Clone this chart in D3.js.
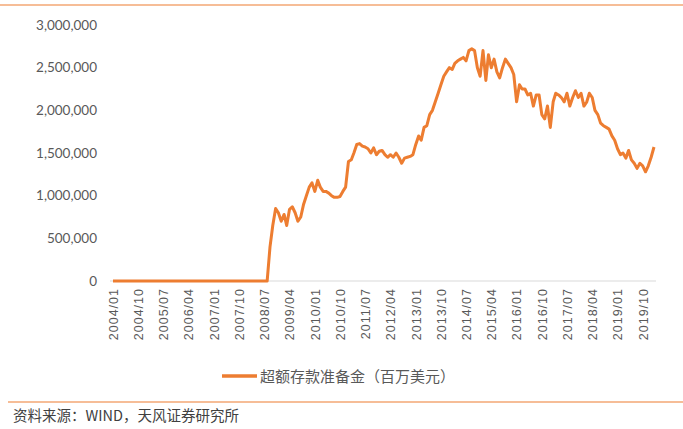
<!DOCTYPE html>
<html><head><meta charset="utf-8">
<script src="https://cdn.jsdelivr.net/npm/d3@7"></script>
<style>body{margin:0;background:#fff}svg{font-family:"Noto Sans CJK SC","Noto Sans",sans-serif}</style>
</head><body><svg id="c" width="683" height="429"></svg>
<script>
const startMonth = "2004/01";
const zeroUntil = "2008/07";
const valuesFrom0808 = [0,400,650,850,800,700,780,650,840,870,800,700,750,900,1000,1100,1150,
1050,1180,1100,1050,1050,1030,1000,980,980,990,1050,1100,
1400,1420,1500,1600,1610,1580,1570,1550,1500,1560,1480,1520,
1530,1480,1450,1480,1450,1500,1450,1380,1440,1450,1460,1480,
1600,1700,1650,1800,1820,1950,2000,2100,2200,2300,2400,2450,
2500,2480,2550,2580,2600,2620,2580,2700,2720,2700,2500,2400,
2700,2350,2650,2500,2600,2450,2380,2500,2600,2550,2500,2420,
2100,2300,2250,2250,2180,2200,2050,2180,2180,1950,1900,2050,
1800,2100,2200,2180,2150,2100,2200,2050,2150,2230,2150,2200,
2050,2100,2200,2150,2000,1950,1850,1820,1800,1780,1700,1650,
1550,1480,1500,1440,1530,1420,1380,1320,1380,1350,1280,1350,
1450,1570];
const tickLabels = ["2004/01","2004/10","2005/07","2006/04","2007/01","2007/10","2008/07","2009/04","2010/01","2010/10","2011/07","2012/04","2013/01","2013/10","2014/07","2015/04","2016/01","2016/10","2017/07","2018/04","2019/01","2019/10"];
const yTicks = [0,500000,1000000,1500000,2000000,2500000,3000000];
const seriesName = "超额存款准备金（百万美元）";
const source = "资料来源：WIND，天风证券研究所";

const parse = d3.timeParse("%Y/%m");
const data = [];
let d = parse(startMonth);
while (d <= parse(zeroUntil)) { data.push({date:d, v:0}); d = d3.timeMonth.offset(d,1); }
valuesFrom0808.forEach(v => { data.push({date:d, v:v*1000}); d = d3.timeMonth.offset(d,1); });

const svg = d3.select("#c");
const x = d3.scaleTime().domain([parse("2004/01"), parse("2020/02")]).range([113, 654]);
const y = d3.scaleLinear().domain([0,3000000]).range([281, 25]);

svg.append("line").attr("x1",0).attr("x2",683).attr("y1",5).attr("y2",5).attr("stroke","#ED7D31").attr("stroke-width",1.2);
svg.append("line").attr("x1",8).attr("x2",683).attr("y1",402).attr("y2",402).attr("stroke","#ED7D31").attr("stroke-width",1.2);

const ya = svg.append("g").attr("transform","translate(100,0)")
  .call(d3.axisLeft(y).tickValues(yTicks).tickFormat(d3.format(",")).tickSize(0));
ya.select(".domain").remove();
ya.selectAll("text").attr("font-size",13.5).attr("fill","#595959").attr("font-family","Lato, 'Noto Sans', sans-serif");

const xa = svg.append("g").attr("transform","translate(0,281)")
  .call(d3.axisBottom(x).tickValues(tickLabels.map(parse)).tickFormat(d3.timeFormat("%Y/%m")).tickSize(0));
xa.select(".domain").attr("stroke","#d9d9d9").attr("stroke-width",1.2).attr("d","M110,0H656");
xa.selectAll(".tick text").attr("font-size",12.5).attr("fill","#595959")
  .attr("transform","rotate(-90)").attr("text-anchor","end").attr("y",0).attr("x",-7).attr("dy","0.35em")
  .style("letter-spacing","1px");

svg.append("path").datum(data).attr("fill","none").attr("stroke","#ED7D31").attr("stroke-width",3)
  .attr("stroke-linejoin","round").attr("d", d3.line().x(p=>x(p.date)).y(p=>y(p.v)));

svg.append("line").attr("x1",222).attr("x2",257).attr("y1",376).attr("y2",376).attr("stroke","#ED7D31").attr("stroke-width",3.5);
svg.append("text").attr("x",260).attr("y",381.5).attr("font-size",15).attr("fill","#595959").text(seriesName);
svg.append("text").attr("x",13).attr("y",421).attr("font-size",14.5).attr("fill","#404040").text(source);
</script></body></html>
